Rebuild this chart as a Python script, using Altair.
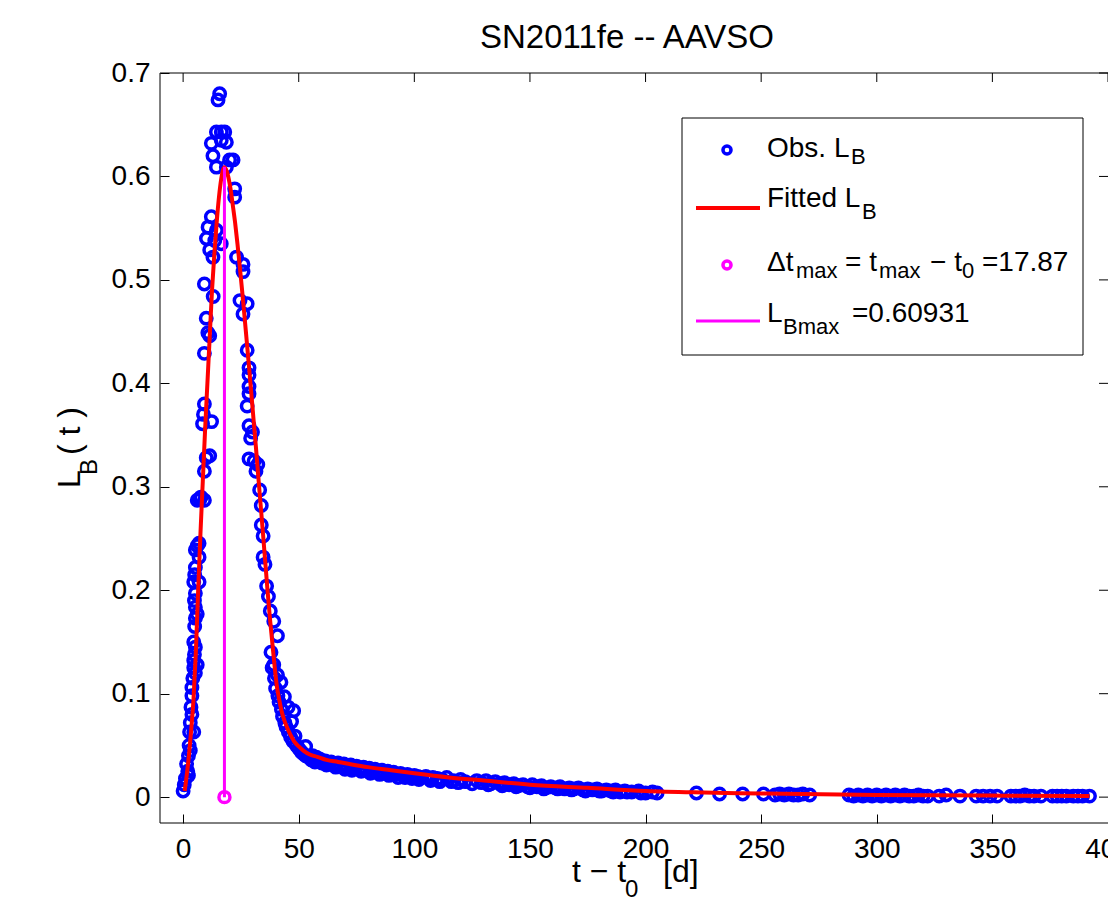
import altair as alt
import pandas as pd

# ---------------- data ----------------
obs_t = [
    0.0, 0.5, 1.0, 1.5, 2.0, 2.3, 2.3, 2.6, 3.1, 2.8, 3.1, 3.4, 3.8, 4.6, 3.8, 3.8, 4.2, 4.6, 4.6, 5.3,
    6.1, 4.9, 5.3, 4.6, 5.0, 5.3, 6.1, 5.3, 4.9, 5.3, 4.6, 6.9, 5.0, 5.3, 6.9, 5.3, 6.1, 6.9, 6.1, 7.7,
    7.3, 9.2, 9.2, 10.0, 11.5, 8.4, 12.3, 8.8, 9.2, 9.2, 11.5, 10.7, 10.0, 13.0, 9.2, 10.1, 11.5, 12.9, 13.7, 16.5,
    10.8, 14.4, 12.2, 14.4, 12.9, 12.2, 14.4, 16.5, 18.0, 16.5, 18.7, 15.1, 15.8, 18.7, 20.1, 21.6, 22.3, 22.3,
    23.1, 25.9, 25.9, 24.6, 27.7, 25.9, 27.7, 28.5, 28.5, 28.5, 28.5, 27.7, 28.5, 30.0, 29.2, 28.5, 30.7, 32.3,
    31.5, 33.1, 33.8, 33.8, 34.6, 34.6, 35.4, 36.1, 36.9, 37.7, 39.2, 40.8, 39.2, 40.8, 42.3, 43.8, 45.4, 46.9,
    47.8, 48.4, 53.0, 57.6, 38.0, 38.5, 39.5, 40.0, 41.0, 41.5, 42.5, 43.0, 44.0, 44.5, 45.5, 46.5, 47.5, 49.0,
    50.0, 51.0,
    52, 54, 55.5, 56, 58, 59, 60, 61.5, 63, 64, 65.5, 67, 68, 69.5, 71, 72.5, 74, 75, 76.5, 78, 79, 80.5,
    82, 83, 84.5, 86, 87, 88.5, 90, 91, 92.5, 94, 95.5, 97, 98, 100, 101.5, 103, 105, 106.5, 108, 110, 112,
    114, 117, 120, 122, 127, 129, 131, 133, 135, 137, 139, 141, 143, 145, 147, 149, 151, 153, 155, 157, 159,
    161, 163, 165, 167, 169, 171, 173, 175, 177, 179, 181, 183, 185, 187, 189, 191, 194, 197, 200, 203, 205,
    222, 232, 242, 251, 256, 258, 260, 262, 264, 266, 268, 271, 288, 290, 292, 294, 296, 298, 300, 302, 304,
    306, 308, 310, 312, 314, 316, 318, 320, 322, 327, 330, 336, 343, 346, 349, 352, 358, 360, 362, 364, 366,
    368, 371, 376, 378, 380, 382, 385, 387, 389, 392,
    53, 57, 62, 66, 70, 73, 77, 81, 85, 89, 93, 96, 99, 102, 107, 111, 116, 119, 125, 132, 138, 144, 150,
    156, 162, 168, 174, 180, 186, 192, 198,
]
obs_L = [
    0.006, 0.012, 0.018, 0.032, 0.025, 0.021, 0.040, 0.050, 0.045, 0.063, 0.072, 0.087, 0.080, 0.063, 0.098, 0.106, 0.115, 0.125, 0.132, 0.120,
    0.128, 0.138, 0.145, 0.150, 0.165, 0.173, 0.177, 0.1835, 0.190, 0.197, 0.208, 0.208, 0.215, 0.222, 0.232, 0.239, 0.243, 0.2455, 0.287, 0.290,
    0.288, 0.287, 0.315, 0.328, 0.330, 0.361, 0.363, 0.370, 0.380, 0.429, 0.446, 0.449, 0.463, 0.484, 0.496, 0.540, 0.529, 0.522, 0.538, 0.535,
    0.551, 0.548, 0.561, 0.609, 0.620, 0.632, 0.643, 0.643, 0.643, 0.635, 0.633, 0.674, 0.680, 0.609, 0.616, 0.616, 0.588, 0.580,
    0.522, 0.515, 0.508, 0.480, 0.477, 0.467, 0.432, 0.415, 0.408, 0.397, 0.390, 0.378, 0.359, 0.353, 0.347, 0.327, 0.325, 0.3215,
    0.315, 0.297, 0.282, 0.263, 0.2525, 0.232, 0.225, 0.204, 0.194, 0.180, 0.170, 0.156, 0.128, 0.118, 0.111, 0.097, 0.087, 0.073,
    0.0835, 0.059, 0.049, 0.0385, 0.140, 0.125, 0.115, 0.105, 0.098, 0.092, 0.085, 0.078, 0.072, 0.068, 0.063, 0.058, 0.054, 0.050,
    0.047, 0.044,
    0.042, 0.039, 0.036, 0.040, 0.035, 0.037, 0.033, 0.035, 0.032, 0.034, 0.031, 0.033, 0.030, 0.032, 0.029, 0.031, 0.028, 0.030, 0.027, 0.029, 0.026, 0.028,
    0.025, 0.027, 0.024, 0.026, 0.023, 0.025, 0.023, 0.024, 0.022, 0.023, 0.021, 0.022, 0.020, 0.021, 0.020, 0.019, 0.020, 0.018, 0.019, 0.018, 0.017,
    0.019, 0.016, 0.017, 0.015, 0.016, 0.014, 0.016, 0.013, 0.015, 0.013, 0.014, 0.012, 0.013, 0.011, 0.012, 0.010, 0.012, 0.010, 0.011, 0.009, 0.010,
    0.009, 0.010, 0.008, 0.009, 0.008, 0.009, 0.007, 0.008, 0.007, 0.008, 0.006, 0.007, 0.006, 0.007, 0.005, 0.006, 0.005, 0.006, 0.004, 0.005, 0.004,
    0.004, 0.003, 0.003, 0.003, 0.002, 0.003, 0.002, 0.003, 0.002, 0.002, 0.003, 0.002, 0.002, 0.001, 0.002, 0.001, 0.002, 0.001, 0.002, 0.001, 0.002,
    0.001, 0.002, 0.001, 0.002, 0.001, 0.001, 0.002, 0.001, 0.001, 0.001, 0.002, 0.001, 0.001, 0.001, 0.001, 0.001, 0.001, 0.001, 0.001, 0.002, 0.001,
    0.001, 0.001, 0.001, 0.001, 0.001, 0.001, 0.001, 0.001, 0.001, 0.001,
    0.040, 0.034, 0.031, 0.029, 0.027, 0.026, 0.025, 0.023, 0.022, 0.021, 0.019, 0.019, 0.018, 0.017, 0.016, 0.015, 0.015, 0.014, 0.013, 0.012, 0.011, 0.010, 0.009,
    0.008, 0.008, 0.007, 0.006, 0.006, 0.005, 0.005, 0.004,
]

fit_t = [0.7, 1.5, 2.5, 3.5, 4.5, 5.5, 6.5, 7.5, 8.5, 9.5, 10.5, 11.5, 12.5, 13.5, 14.5, 15.5, 16.5, 17.2, 17.87,
         18.5, 19.5, 20.5, 21.5, 22.5, 23.5, 24.5, 25.5, 26.5, 27.5, 28.5, 29.5, 30.5, 31.5, 32.5, 33.5, 34.5,
         35.5, 36.5, 37.5, 38.5, 39.5, 40.5, 41.5, 42.5, 43.5, 45, 46.5, 48, 50, 52, 55, 58, 62, 67, 72, 80, 90,
         100, 115, 130, 150, 175, 200, 225, 250, 300, 350, 392]
fit_L = [0.006, 0.02, 0.04, 0.065, 0.095, 0.14, 0.2, 0.255, 0.305, 0.355, 0.40, 0.445, 0.49, 0.525, 0.555, 0.58, 0.598, 0.606, 0.609,
         0.607, 0.600, 0.588, 0.572, 0.555, 0.535, 0.513, 0.49, 0.466, 0.441, 0.416, 0.39, 0.364, 0.338, 0.31, 0.283, 0.256,
         0.228, 0.2, 0.174, 0.151, 0.128, 0.108, 0.095, 0.084, 0.076, 0.067, 0.06, 0.054, 0.049, 0.045, 0.041, 0.039, 0.036, 0.034, 0.032, 0.029, 0.026,
         0.023, 0.019, 0.016, 0.012, 0.009, 0.006, 0.0045, 0.0035, 0.002, 0.0015, 0.001]

t_max = 17.87
L_Bmax = 0.60931

x_ticks = [0, 50, 100, 150, 200, 250, 300, 350, 400]
y_ticks = [0, 0.1, 0.2, 0.3, 0.4, 0.5, 0.6, 0.7]

# ---------------- styling ----------------
FONT = "Liberation Sans"
BLUE, RED, MAG = "#0000ff", "#ff0000", "#ff00ff"
W, H = 948, 750
TICK = 9

xs = alt.Scale(domain=[-10, 400], nice=False, zero=False)
ys = alt.Scale(domain=[-0.025, 0.7], nice=False, zero=False)

x_axis = alt.Axis(values=x_ticks, title=None, grid=False, domain=False, tickSize=TICK, offset=-TICK,
                  tickColor="black", tickWidth=1, labelFont=FONT, labelFontSize=28, labelColor="black",
                  labelPadding=12, labelFlush=False, labelOverlap=False)
y_axis = alt.Axis(values=y_ticks, format=".1~f", title=None, grid=False, domain=False, tickSize=TICK, offset=-TICK,
                  tickColor="black", tickWidth=1, labelFont=FONT, labelFontSize=28, labelColor="black",
                  labelPadding=10, labelOverlap=False)

X = alt.X("t:Q", scale=xs, axis=x_axis)
Y = alt.Y("L:Q", scale=ys, axis=y_axis)

obs_df = pd.DataFrame({"t": obs_t, "L": obs_L})
fit_df = pd.DataFrame({"t": fit_t, "L": fit_L})
peak_df = pd.DataFrame({"t": [t_max], "L0": [0.0], "L": [L_Bmax]})
peak_pt = pd.DataFrame({"t": [t_max], "L": [0.0]})
xt_df = pd.DataFrame({"t": x_ticks})
yt_df = pd.DataFrame({"L": y_ticks})

one = pd.DataFrame({"a": [0]})

obs = alt.Chart(obs_df).mark_point(shape="circle", filled=False, size=130, strokeWidth=3.5,
                                   color=BLUE, opacity=1).encode(x=X, y=Y)
fit = alt.Chart(fit_df).mark_line(color=RED, strokeWidth=4, interpolate="monotone").encode(x=X, y=Y)
pk_pt = alt.Chart(peak_pt).mark_point(shape="circle", filled=False, size=120, strokeWidth=3.5,
                                      color=MAG, opacity=1).encode(x=X, y=Y)
pk_line = alt.Chart(peak_df).mark_rule(color=MAG, strokeWidth=3).encode(x=X, y=Y, y2="L0:Q")

# inward ticks on top and right
top_ticks = alt.Chart(xt_df).mark_rule(color="black", strokeWidth=1).encode(
    x=X, y=alt.value(0), y2=alt.value(TICK))
right_ticks = alt.Chart(yt_df).mark_rule(color="black", strokeWidth=1).encode(
    y=Y, x=alt.value(W - TICK), x2=alt.value(W))

# frame (right edge falls outside the window)
frame_top = alt.Chart(one).mark_rule(color="black", strokeWidth=1).encode(
    x=alt.value(0), x2=alt.value(W), y=alt.value(0))
frame_bot = alt.Chart(one).mark_rule(color="black", strokeWidth=1).encode(
    x=alt.value(0), x2=alt.value(W), y=alt.value(H))
frame_left = alt.Chart(one).mark_rule(color="black", strokeWidth=1).encode(
    x=alt.value(0), y=alt.value(0), y2=alt.value(H))


def txt(s, x, y, size=28, align="left", angle=0):
    return alt.Chart(one).mark_text(text=s, font=FONT, fontSize=size, color="black", align=align,
                                    baseline="alphabetic", angle=angle).encode(
        x=alt.value(x), y=alt.value(y))


# legend
leg_box = alt.Chart(one).mark_rect(fill="white", stroke="black", strokeWidth=1).encode(
    x=alt.value(522), x2=alt.value(923), y=alt.value(45), y2=alt.value(282))
leg_c1 = alt.Chart(one).mark_point(shape="circle", filled=False, size=65, strokeWidth=3.5, color=BLUE,
                                   opacity=1).encode(x=alt.value(567), y=alt.value(77))
leg_l2 = alt.Chart(one).mark_rule(color=RED, strokeWidth=4).encode(
    x=alt.value(536), x2=alt.value(600), y=alt.value(135))
leg_c3 = alt.Chart(one).mark_point(shape="circle", filled=False, size=65, strokeWidth=3.5, color=MAG,
                                   opacity=1).encode(x=alt.value(567), y=alt.value(192))
leg_l4 = alt.Chart(one).mark_rule(color=MAG, strokeWidth=3).encode(
    x=alt.value(536), x2=alt.value(600), y=alt.value(248))

SUB = 22
legend_texts = [
    txt("Obs. L", 607, 84), txt("B", 691, 91, SUB),
    txt("Fitted L", 607, 134), txt("B", 702, 146, SUB),
    txt("\u0394t", 607, 198), txt("max", 636, 205, SUB),
    txt("= t", 685, 198), txt("max", 719, 205, SUB),
    txt("\u2212 t", 770, 198), txt("0", 802, 205, SUB),
    txt("=17.87", 822, 198),
    txt("L", 607, 249), txt("Bmax", 623, 261, SUB), txt("=0.60931", 692, 249),
]

# titles
title = txt("SN2011fe -- AAVSO", 467, -25, 33, align="center")
xlab = [txt("t \u2212 t", 412, 809, 32), txt("0", 465, 824, 24), txt("[d]", 503, 809, 32)]
ylab = [txt("L", -80, 415, 32, angle=270), txt("B", -63, 402, 24, angle=270),
        txt("( t )", -80, 382, 32, angle=270)]

chart = alt.layer(
    obs, fit, pk_pt, pk_line, top_ticks, right_ticks, frame_top, frame_bot, frame_left,
    leg_box, leg_c1, leg_l2, leg_c3, leg_l4, *legend_texts, title, *xlab, *ylab,
).properties(
    width=W, height=H,
    autosize=alt.AutoSizeParams(type="none"),
    padding={"left": 160, "top": 73, "right": 0, "bottom": 76},
    background="white",
).configure_view(stroke=None)

chart.save("out.html", embed_options={"renderer": "svg", "actions": False})
